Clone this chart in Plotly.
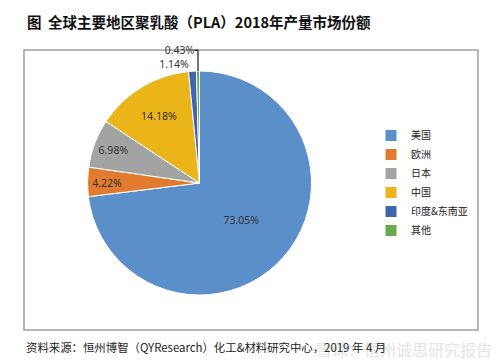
import plotly.graph_objects as go

regions = ["美国", "欧洲", "日本", "中国", "印度&东南亚", "其他"]
shares = [73.05, 4.22, 6.98, 14.18, 1.14, 0.43]
colors = ["#5B8FCA", "#E07B30", "#A3A3A3", "#EBB418", "#3F66AF", "#6AAA4C"]
label_pos = ["inside", "inside", "inside", "inside", "outside", "outside"]

title = "图  全球主要地区聚乳酸（PLA）2018年产量市场份额"
source = "资料来源：恒州博智（QYResearch）化工&材料研究中心，2019 年 4 月"
watermark = "雪球：恒州诚思研究报告"

W, H = 500, 364
dx, dy = -8.5, -7

fig = go.Figure(go.Pie(
    labels=regions,
    values=shares,
    marker=dict(colors=colors, line=dict(color="white", width=1)),
    sort=False,
    direction="clockwise",
    rotation=0,
    texttemplate="%{value:.2f}%",
    textposition=label_pos,
    insidetextorientation="horizontal",
    textfont=dict(family="Noto Sans, Noto Sans CJK SC", size=10.5, color="#333333"),
    outsidetextfont=dict(family="Noto Sans, Noto Sans CJK SC", size=10.5, color="#333333"),
    insidetextfont=dict(family="Noto Sans, Noto Sans CJK SC", size=10.5, color="#333333"),
    domain=dict(x=[(88 + dx) / W, (312 + dx) / W], y=[(H - 294 - dy) / H, (H - 70 - dy) / H]),
    automargin=False,
    hoverinfo="label+percent",
))

fig.update_layout(
    width=W, height=H,
    margin=dict(l=0, r=0, t=0, b=0),
    paper_bgcolor="white",
    plot_bgcolor="white",
    showlegend=True,
    legend=dict(
        x=363 / W, y=(H - 113) / H, xanchor="left", yanchor="top",
        font=dict(family="Noto Sans CJK SC", size=10, color="#222222"),
        bgcolor="rgba(0,0,0,0)",
        itemwidth=30,
        tracegroupgap=0,
    ),
    shapes=[dict(
        type="rect", xref="paper", yref="paper",
        x0=16 / W, x1=470 / W, y0=(H - 322) / H, y1=(H - 42) / H,
        line=dict(color="#A0A0A0", width=1.5), fillcolor="rgba(0,0,0,0)", layer="below",
    )],
    annotations=[
        dict(text="<b>" + title + "</b>", xref="paper", yref="paper",
             x=17 / W, y=(H - 14) / H, xanchor="left", yanchor="middle", showarrow=False,
             font=dict(family="Noto Sans CJK SC", size=14.5, color="#111111")),
        dict(text=watermark, xref="paper", yref="paper",
             x=486 / W, y=(H - 341) / H, xanchor="right", yanchor="middle", showarrow=False,
             font=dict(family="Noto Sans CJK SC", size=16, color="#E4E4E4")),
        dict(text=source, xref="paper", yref="paper",
             x=16 / W, y=(H - 339) / H, xanchor="left", yanchor="middle", showarrow=False,
             font=dict(family="Noto Sans CJK SC", size=11.4, color="#222222")),
    ],
)

fig.write_html("out.html")
